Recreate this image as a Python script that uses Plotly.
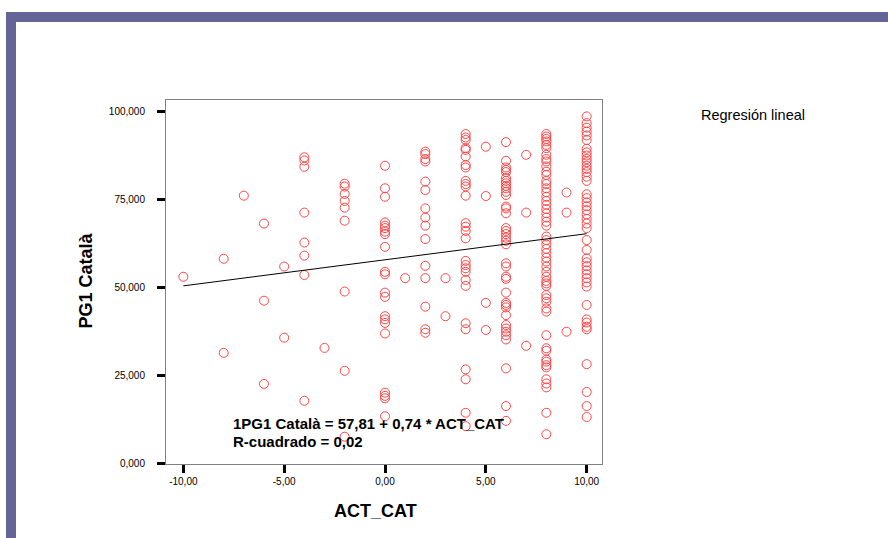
import plotly.graph_objects as go

# ---- data (PG1 Català vs ACT_CAT) ----
pg1_m10 = [53.0]
pg1_m8 = [58.1, 31.4]
pg1_m7 = [76.0]
pg1_m6 = [68.1, 46.2, 22.6]
pg1_m5 = [55.9, 35.7]
pg1_m4 = [86.9, 86.0, 84.2, 71.2, 62.7, 59.0, 53.5, 17.8]
pg1_m3 = [32.8]
pg1_m2 = [79.4, 78.6, 76.5, 74.5, 72.6, 68.9, 48.8, 26.3, 7.6]
pg1_0 = [84.5, 78.1, 75.7, 68.4, 67.5, 66.8, 65.8, 65.1, 61.5, 54.4, 53.7,
         48.5, 47.3, 41.8, 40.9, 39.9, 36.9, 20.1, 19.2, 18.5, 13.4]
pg1_1 = [52.6]
pg1_2 = [88.5, 87.8, 86.4, 85.7, 80.0, 77.6, 72.4, 69.8, 67.5, 63.7, 56.1,
         52.6, 44.5, 38.1, 37.1]
pg1_3 = [52.6, 41.8]
pg1_4 = [93.5, 92.5, 91.8, 89.5, 89.0, 87.1, 84.7, 84.0, 80.2, 79.3, 78.6,
         76.0, 68.2, 67.2, 66.0, 63.9, 57.5, 56.3, 55.4, 54.4, 52.1, 50.4,
         39.8, 38.1, 26.7, 23.9, 14.4, 10.6]
pg1_5 = [89.9, 75.9, 45.6, 37.9]
pg1_6 = [91.2, 85.9, 84.0, 83.3, 82.7, 81.0, 80.2, 79.5, 78.8, 78.1, 77.1,
         76.2, 72.9, 72.4, 71.0, 66.8, 66.0, 65.1, 64.1, 63.2, 62.2, 56.8,
         55.9, 53.0, 52.4, 48.5, 45.6, 45.0, 44.3, 42.1, 39.3, 38.3, 37.4,
         36.4, 35.2, 27.0, 16.3, 12.1]
pg1_7 = [87.6, 71.2, 33.4]
pg1_8 = [93.5, 92.8, 92.1, 91.4, 90.4, 89.5, 87.6, 86.4, 85.7, 84.3, 82.8,
         81.9, 80.2, 79.3, 78.1, 77.0, 75.7, 74.5, 73.4, 72.2, 71.0, 69.8,
         68.6, 67.5, 64.4, 63.4, 62.2, 60.9, 59.7, 58.4, 57.3, 55.9, 54.4,
         53.0, 51.8, 51.1, 50.4, 47.8, 46.9, 45.9, 44.0, 43.1, 36.4, 32.7,
         32.0, 29.5, 28.9, 27.9, 27.3, 23.9, 22.7, 21.6, 14.4, 8.3]
pg1_9 = [76.9, 71.2, 37.4]
pg1_10 = [98.5, 96.6, 95.3, 94.2, 93.1, 91.8, 89.3, 88.3, 87.4, 86.4, 85.5,
          84.5, 83.6, 82.7, 81.4, 80.2, 76.4, 75.3, 74.1, 73.0, 71.9, 70.7,
          69.4, 68.1, 66.8, 63.4, 60.6, 58.2, 57.1, 56.0, 54.8, 53.7, 52.6,
          51.4, 50.2, 45.0, 40.9, 40.0, 38.8, 38.1, 28.2, 20.3, 16.3, 13.2]

act_levels = [-10, -8, -7, -6, -5, -4, -3, -2, 0, 1, 2, 3, 4, 5, 6, 7, 8, 9, 10]
pg1_groups = [pg1_m10, pg1_m8, pg1_m7, pg1_m6, pg1_m5, pg1_m4, pg1_m3, pg1_m2,
              pg1_0, pg1_1, pg1_2, pg1_3, pg1_4, pg1_5, pg1_6, pg1_7, pg1_8,
              pg1_9, pg1_10]

act_cat = []
pg1_catala = []
for lvl, grp in zip(act_levels, pg1_groups):
    act_cat += [lvl] * len(grp)
    pg1_catala += grp

# regression fit from the reference
intercept = 57.81
slope = 0.74
fit_x = [-10, 10]
fit_y = [intercept + slope * v for v in fit_x]

x_tickvals = [-10, -5, 0, 5, 10]
x_ticktext = ["-10,00", "-5,00", "0,00", "5,00", "10,00"]
y_tickvals = [0, 25, 50, 75, 100]
y_ticktext = ["0,000", "25,000", "50,000", "75,000", "100,000"]

W, H = 888, 538          # reference pixel frame
FIG_H = 544              # page height that ends up photographed as 538
FONT = "Liberation Sans, Arial, sans-serif"


def fx(p):
    return p / W


def fy(p):
    return 1 - p / H


fig = go.Figure()
fig.add_trace(go.Scatter(
    x=act_cat, y=pg1_catala, mode="markers",
    marker=dict(symbol="circle-open", size=9, color="rgb(255,70,70)",
                line=dict(width=1, color="rgb(255,70,70)")),
    hoverinfo="skip"))
fig.add_trace(go.Scatter(
    x=fit_x, y=fit_y, mode="lines",
    line=dict(color="black", width=1), hoverinfo="skip"))

axis_common = dict(showgrid=False, zeroline=False, showline=True, mirror=True,
                   linecolor="#808080", linewidth=1, ticks="outside",
                   ticklen=8, tickwidth=3, tickcolor="black",
                   tickfont=dict(family=FONT, size=10, color="black"))

ann = dict(xref="paper", yref="paper", showarrow=False, yanchor="middle")

fig.update_layout(
    width=W, height=FIG_H, margin=dict(l=0, r=0, t=0, b=0),
    paper_bgcolor="white", plot_bgcolor="white", showlegend=False,
    xaxis=dict(domain=[fx(166), fx(602)], range=[-10.86, 10.76],
               tickvals=x_tickvals, ticktext=x_ticktext, **axis_common),
    yaxis=dict(domain=[fy(463), fy(100)], range=[-0.1, 103.1],
               tickvals=y_tickvals, ticktext=y_ticktext,
               ticklabelstandoff=10, **axis_common),
    shapes=[
        dict(type="rect", xref="paper", yref="paper", x0=fx(6), x1=1,
             y0=fy(22), y1=fy(12), fillcolor="rgb(100,100,150)", line_width=0),
        dict(type="rect", xref="paper", yref="paper", x0=fx(6), x1=fx(16),
             y0=0, y1=fy(12), fillcolor="rgb(100,100,150)", line_width=0),
    ],
    annotations=[
        dict(text="<b>ACT_CAT</b>", x=fx(375), y=fy(510), xanchor="center",
             font=dict(family=FONT, size=18, color="black"), **ann),
        dict(text="<b>PG1 Català</b>", x=fx(86), y=fy(280), xanchor="center",
             textangle=-90,
             font=dict(family=FONT, size=18, color="black"), **ann),
        dict(text="<b>1PG1 Català = 57,81 + 0,74 * ACT_CAT</b>",
             x=fx(231), y=fy(423), xanchor="left",
             font=dict(family=FONT, size=15, color="black"), **ann),
        dict(text="<b>R-cuadrado = 0,02</b>", x=fx(231), y=fy(441),
             xanchor="left",
             font=dict(family=FONT, size=15, color="black"), **ann),
        dict(text="Regresión lineal", x=fx(699), y=fy(115), xanchor="left",
             font=dict(family=FONT, size=14.5, color="black"), **ann),
    ],
)

fig.write_html("out.html", config={"displayModeBar": False},
               post_script="document.body.style.margin='0';")
